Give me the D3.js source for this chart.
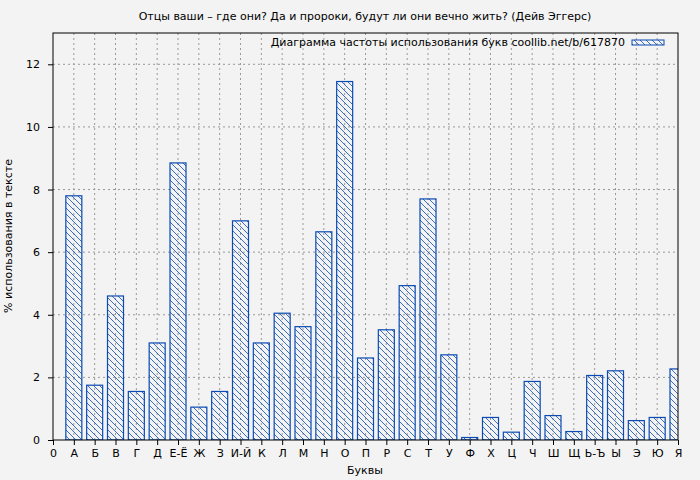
<!DOCTYPE html>
<html>
<head>
<meta charset="utf-8">
<script src="https://d3js.org/d3.v7.min.js"></script>
<style>
  body{margin:0;background:#f3f3f3;font-family:"DejaVu Sans",sans-serif;}
</style>
</head>
<body>
<svg id="chart" width="700" height="480"></svg>
<script>
// letters and their share in the text, %
var letters = ["А","Б","В","Г","Д","Е-Ё","Ж","З","И-Й","К","Л","М","Н","О","П","Р","С","Т","У","Ф","Х","Ц","Ч","Ш","Щ","Ь-Ъ","Ы","Э","Ю","Я"];
var values = [7.8,1.75,4.6,1.55,3.1,8.85,1.05,1.55,7.0,3.1,4.05,3.62,6.65,11.45,2.62,3.52,4.93,7.7,2.72,0.08,0.72,0.25,1.87,0.78,0.27,2.06,2.21,0.62,0.72,2.27];
var yTicks = [0,2,4,6,8,10,12];

var margin = {left:53, top:33, right:22, bottom:40};
var width = 700 - margin.left - margin.right;
var height = 480 - margin.top - margin.bottom;
var blue = "#0b4bb3";

var svg = d3.select("#chart");
svg.append("defs").append("pattern")
  .attr("id","hatch").attr("patternUnits","userSpaceOnUse")
  .attr("width",6).attr("height",6)
  .append("path").attr("d","M0,0L6,6M-1,5L1,7M5,-1L7,1")
  .attr("stroke",blue).attr("stroke-width",0.8);
svg.select("defs").append("clipPath").attr("id","clip")
  .append("rect").attr("width",width).attr("height",height);

var g = svg.append("g").attr("transform","translate("+margin.left+","+margin.top+")");

var x = d3.scaleLinear().domain([0,30]).range([0,width]);
var y = d3.scaleLinear().domain([0,13]).range([height,0]);

// grid
g.append("g").selectAll("line").data(d3.range(1,30)).join("line")
  .attr("x1",d=>x(d)).attr("x2",d=>x(d)).attr("y1",0).attr("y2",height)
  .attr("stroke","#999").attr("stroke-dasharray","2,3");
g.append("g").selectAll("line").data(yTicks.slice(1)).join("line")
  .attr("x1",0).attr("x2",width).attr("y1",d=>y(d)).attr("y2",d=>y(d))
  .attr("stroke","#999").attr("stroke-dasharray","2,3");

// bars
var bw = 16;
g.append("g").attr("clip-path","url(#clip)").selectAll("rect").data(values).join("rect")
  .attr("x",(d,i)=>x(i+1)-bw/2).attr("width",bw)
  .attr("y",d=>y(d)).attr("height",d=>y(0)-y(d))
  .attr("fill","url(#hatch)").attr("stroke",blue).attr("stroke-width",1.2);

g.append("rect").attr("width",width).attr("height",height)
  .attr("fill","none").attr("stroke","#000");

var xa = g.append("g").attr("transform","translate(0,"+height+")")
  .call(d3.axisBottom(x).tickValues(d3.range(0,31)).tickSize(5).tickPadding(4)
    .tickFormat(d=>d===0?"0":letters[d-1]));
var ya = g.append("g")
  .call(d3.axisLeft(y).tickValues(yTicks).tickSize(5).tickPadding(8));
[xa,ya].forEach(a=>{
  a.select(".domain").remove();
  a.selectAll("text").attr("font-size",11).attr("font-family","DejaVu Sans").attr("fill","#000");
});

svg.append("text").attr("x",365).attr("y",20).attr("text-anchor","middle")
  .attr("font-size",11).text("Отцы ваши – где они? Да и пророки, будут ли они вечно жить? (Дейв Эггерс)");
svg.append("text").attr("x",365).attr("y",474).attr("text-anchor","middle")
  .attr("font-size",11).text("Буквы");
svg.append("text").attr("transform","translate(12,236) rotate(-90)").attr("text-anchor","middle")
  .attr("font-size",11).text("% использования в тексте");

// legend
svg.append("text").attr("x",625).attr("y",46).attr("text-anchor","end")
  .attr("font-size",11).text("Диаграмма частоты использования букв coollib.net/b/617870");
svg.append("rect").attr("x",632).attr("y",40).attr("width",32).attr("height",5)
  .attr("fill","url(#hatch)").attr("stroke",blue);
</script>
</body>
</html>
